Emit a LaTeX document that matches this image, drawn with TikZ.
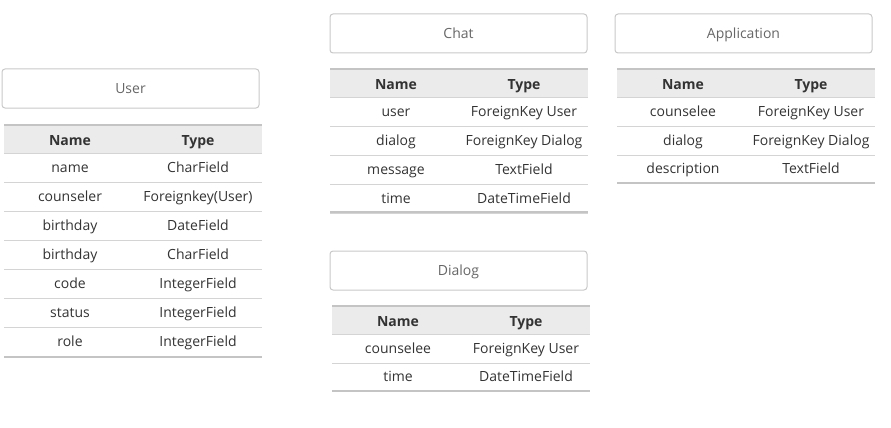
\documentclass[tikz,border=0pt]{standalone}
\usepackage{fontspec}
\setmainfont{Open Sans}
\usetikzlibrary{calc}
\definecolor{boxline}{HTML}{C8C8C8}
\definecolor{titlegray}{HTML}{666666}
\definecolor{headgray}{HTML}{EBEBEB}
\definecolor{ruleline}{HTML}{D4D4D4}
\definecolor{thickrule}{HTML}{C4C4C4}
\definecolor{cellgray}{HTML}{333333}
\tikzset{
  titlebox/.style={draw=boxline,line width=1pt,rounded corners=3pt,minimum width=257pt,minimum height=39pt,
    text height=10.5pt,text depth=0pt,text=titlegray,font=\fontsize{14}{16}\selectfont},
  headtext/.style={anchor=base,text=cellgray,font=\fontsize{14}{16}\selectfont\bfseries},
  celltext/.style={anchor=base,text=cellgray,font=\fontsize{14}{16}\selectfont},
  rowline/.style={draw=ruleline,line width=1pt},
  endline/.style={draw=thickrule,line width=2pt},
}
\newcommand\modeltitle[4]{% id, left, top, title
\node (#1) at (#2+128.5,#3+19.5) [titlebox] {#4};}
\newcommand\headrow[3]{% id, left, top
\fill[headgray] (#2,#3) rectangle ++(258,28);
\draw[endline] (#2,#3) -- ++(258,0);
\draw[rowline] (#2,#3+28) -- ++(258,0);
\node (#1n) at (#2+66,#3+20) [headtext] {Name};
\node (#1t) at (#2+194,#3+20) [headtext] {Type};}
\newcommand\fieldrow[5]{% id, left, top, field, type
\draw[rowline] (#2,#3+29) -- ++(258,0);
\node (#1n) at (#2+66,#3+19.5) [celltext] {#4};
\node (#1t) at (#2+194,#3+19.5) [celltext] {#5};}
\newcommand\tableend[2]{% left, bottom
\draw[endline] (#1,#2) -- ++(258,0);}

\begin{document}
\begin{tikzpicture}[x=1pt,y=-1pt]
  \useasboundingbox (0,0) rectangle (891,428);

  % User
  \modeltitle{user}{2}{69}{User}
  \headrow{userh}{4}{125}
  \fieldrow{usera}{4}{153}{name}{CharField}
  \fieldrow{userb}{4}{182}{counseler}{Foreignkey(User)}
  \fieldrow{userc}{4}{211}{birthday}{DateField}
  \fieldrow{userd}{4}{240}{birthday}{CharField}
  \fieldrow{usere}{4}{269}{code}{IntegerField}
  \fieldrow{userf}{4}{298}{status}{IntegerField}
  \fieldrow{userg}{4}{327}{role}{IntegerField}
  \tableend{4}{357}

  % Chat
  \modeltitle{chat}{330}{14}{Chat}
  \headrow{chath}{330}{69}
  \fieldrow{chata}{330}{97}{user}{ForeignKey User}
  \fieldrow{chatb}{330}{126}{dialog}{ForeignKey Dialog}
  \fieldrow{chatc}{330}{155}{message}{TextField}
  \fieldrow{chatd}{330}{184}{time}{DateTimeField}
  \tableend{330}{212}

  % Application
  \modeltitle{app}{615}{14}{Application}
  \headrow{apph}{617}{69}
  \fieldrow{appa}{617}{97}{counselee}{ForeignKey User}
  \fieldrow{appb}{617}{126}{dialog}{ForeignKey Dialog}
  \fieldrow{appc}{617}{154}{description}{TextField}
  \tableend{617}{183}

  % Dialog
  \modeltitle{dialog}{330}{251}{Dialog}
  \headrow{dialogh}{332}{306}
  \fieldrow{dialoga}{332}{334}{counselee}{ForeignKey User}
  \fieldrow{dialogb}{332}{362}{time}{DateTimeField}
  \tableend{332}{391}
\end{tikzpicture}
\end{document}
